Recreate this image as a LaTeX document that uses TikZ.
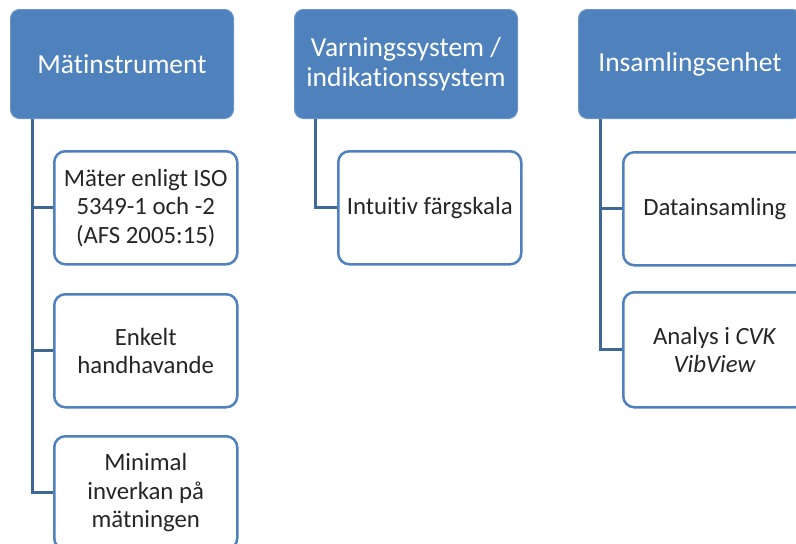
\documentclass[tikz,border=0pt]{standalone}
\usepackage{fontspec}
\setmainfont[Ligatures={NoCommon}]{Carlito}
\definecolor{hblue}{HTML}{4F81BD}
\definecolor{lblue}{HTML}{4F81BD}
\definecolor{cblue}{HTML}{3E6896}
\definecolor{tgray}{HTML}{262626}
\tikzset{
  head/.style={fill=hblue, draw=hblue!85!white, line width=1pt, rounded corners=9pt, minimum width=223pt, minimum height=109pt,
    anchor=north west, inner sep=0pt, text=white, align=center, font=\fontsize{27.5}{30}\selectfont},
  leaf/.style={draw=lblue, line width=2.5pt, fill=white, rounded corners=11pt, minimum width=183pt, minimum height=113pt,
    anchor=north west, inner sep=0pt, text=tgray, align=center, font=\fontsize{24.8}{28.5}\selectfont},
  link/.style={draw=cblue, line width=3pt}
}
\begin{document}
\begin{tikzpicture}[x=1pt,y=-1pt]
\useasboundingbox (0,0) rectangle (796,544);
\clip (0,0) rectangle (796,544);
\fill[white] (0,0) rectangle (796,544);
% column 1
\node[head] (h1) at (10,9) {Mätinstrument};
\node[leaf] (a1) at (53,150) {Mäter enligt ISO\\5349-1 och -2\\(AFS 2005:15)};
\node[leaf] (a2) at (53,293) {Enkelt\\handhavande};
\node[leaf] (a3) at (53,435) {Minimal\\inverkan på\\mätningen};
\draw[link] ([xshift=22pt]h1.south west) |- (a1.west);
\draw[link] ([xshift=22pt]h1.south west) |- (a2.west);
\draw[link] ([xshift=22pt]h1.south west) |- (a3.west);
% column 2
\node[head] (h2) at (294,9) {Varningssystem /\\indikationssystem};
\node[leaf] (b1) at (337,150) {Intuitiv färgskala};
\draw[link] ([xshift=21pt]h2.south west) |- (b1.west);
% column 3
\node[head] (h3) at (578,9) {Insamlingsenhet};
\node[leaf] (c1) at (622,151) {Datainsamling};
\node[leaf, minimum height=115pt] (c2) at (622,291) {Analys i \textit{CVK}\\\textit{VibView}};
\draw[link] ([xshift=22pt]h3.south west) |- (c1.west);
\draw[link] ([xshift=22pt]h3.south west) |- (c2.west);
\end{tikzpicture}
\end{document}
